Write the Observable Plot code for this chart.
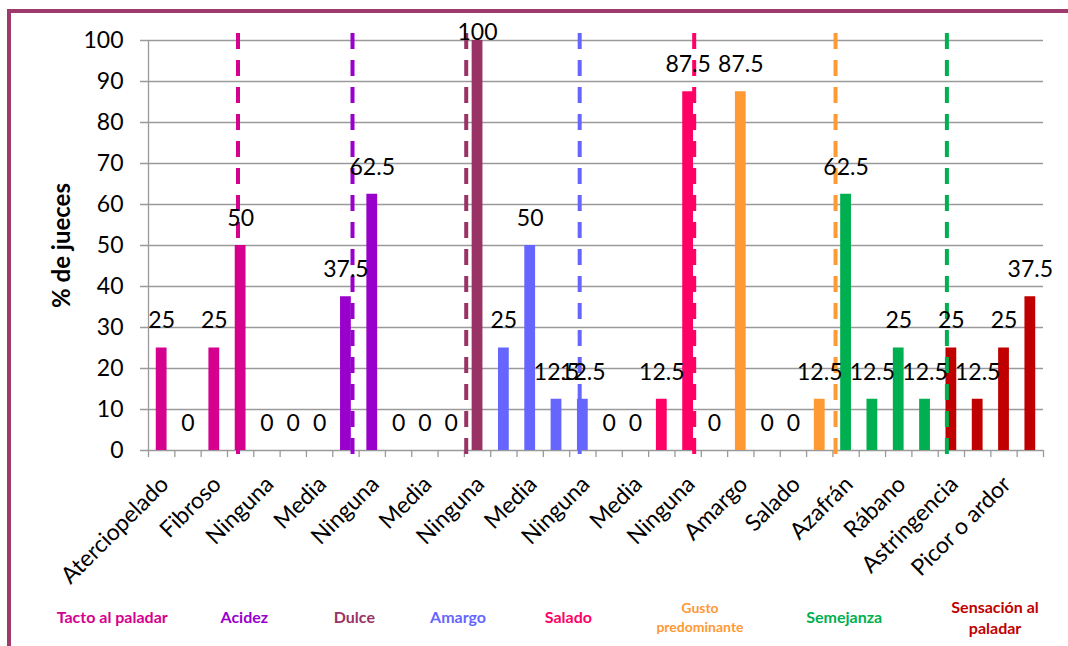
<!DOCTYPE html>
<html>
<head>
<meta charset="utf-8">
<script src="https://cdn.jsdelivr.net/npm/d3@7"></script>
<script src="https://cdn.jsdelivr.net/npm/@observablehq/plot@0.6"></script>
<style>
  html, body { margin: 0; padding: 0; background: #fff; }
  #chart { position: relative; width: 1068px; height: 646px; overflow: hidden; }
  #chart svg { position: absolute; left: 0; top: 0; font-family: Lato, "Open Sans", sans-serif; }
  #border { position: absolute; left: 7px; top: 9px; width: 1100px; height: 700px;
            border-left: 4.5px solid #9e3a6c; border-top: 4px solid #9e3a6c; }
</style>
</head>
<body>
<div id="chart"><div id="border"></div></div>
<script>
// Attribute levels, one bar each (every other name is shown under the axis)
const categories = [
  "Aterciopelado", "Arenoso", "Fibroso", "Harinoso",
  "Ninguna", "Baja", "Media", "Alta", "Ninguna",
  "Baja", "Media", "Alta", "Ninguna",
  "Baja", "Media", "Alta", "Ninguna",
  "Baja", "Media", "Alta", "Ninguna",
  "Ácido", "Amargo", "Dulce", "Salado", "Umami",
  "Azafrán", "Jengibre", "Rábano", "Mostaza",
  "Astringencia", "Frescor", "Picor o ardor", "Calidez"
];

// % of judges choosing each level
const values = [
  25, 0, 25, 50,
  0, 0, 0, 37.5, 62.5,
  0, 0, 0, 100,
  25, 50, 12.5, 12.5,
  0, 0, 12.5, 87.5,
  0, 87.5, 0, 0, 12.5,
  62.5, 12.5, 25, 12.5,
  25, 12.5, 25, 37.5
];

// Sensory attributes and how many consecutive bars belong to each
const groups = ["Tacto al paladar", "Acidez", "Dulce", "Amargo", "Salado",
                "Gusto\npredominante", "Semejanza", "Sensación al\npaladar"];
const groupSizes = [4, 5, 4, 4, 4, 5, 4, 4];
const groupColors = ["#d6008f", "#9900cc", "#993366", "#6666ff", "#ff0066",
                     "#ff9933", "#00b050", "#c00000"];

// Hand-drawn dashed dividers after each attribute, in bar-index units
const dividerAt = [3.40, 7.75, 12.07, 16.38, 20.73, 26.10, 30.33];
// Attribute captions under the axis, in bar-index units
const captionAt = [-1.38, 3.64, 7.82, 11.76, 15.95, 20.95, 26.43, 32.16];
const captionSize = [16, 16, 16, 16, 16, 14, 16, 16];

const yTicks = d3.range(0, 101, 10);

// one row per bar, tagged with its attribute
const groupOfBar = groupSizes.flatMap((n, g) => d3.range(n).map(() => groups[g]));
const rows = values.map((v, i) => ({i, name: categories[i], value: v, group: groupOfBar[i]}));
const dividers = dividerAt.map((at, g) => ({at, group: groups[g]}));
const captions = captionAt.map((at, g) => ({at, group: groups[g], size: captionSize[g]}));
const labelledRows = rows.filter(d => d.i % 2 === 0);

const n = categories.length;

const chart = Plot.plot({
  width: 1068,
  height: 646,
  marginLeft: 148,
  marginRight: 25,
  marginTop: 40,
  marginBottom: 196,
  style: {fontFamily: "Lato, 'Open Sans', sans-serif", background: "transparent", overflow: "visible"},
  x: {domain: [0, n], axis: null},
  y: {domain: [0, 100], axis: null},
  color: {domain: groups, range: groupColors},
  marks: [
    // gridlines (with outward tick stubs on the left)
    Plot.ruleY(yTicks, {stroke: "#9a9a9a", strokeWidth: 1.3, insetLeft: -8}),
    Plot.ruleX([0], {stroke: "#9a9a9a", strokeWidth: 1.3}),
    // y tick labels
    Plot.axisY(yTicks, {tickSize: 0, tickPadding: 25, fontSize: 23, label: null, tickFormat: d => String(d)}),
    // category tick marks on boundaries
    Plot.axisX(d3.range(0, n + 1), {tickSize: 7, stroke: "#9a9a9a", strokeWidth: 1.3, label: null, tickFormat: () => ""}),
    // bars
    Plot.rectY(rows, {x1: d => d.i + 0.295, x2: d => d.i + 0.705, y: "value", fill: "group"}),
    // dashed dividers
    Plot.ruleX(dividers, {x: "at", y1: 101.7, y2: -1.2, stroke: "group", strokeWidth: 4, strokeDasharray: "16,11"}),
    // value labels
    Plot.text(rows, {x: d => d.i + 0.5, y: d => Math.min(d.value + 6.6, 102), text: d => String(d.value),
                     fontSize: 23, fill: "black"}),
    // category names (every other bar), slanted below the axis
    Plot.text(labelledRows, {x: d => d.i + 0.5, y: 0, text: "name", rotate: -45, textAnchor: "end",
                             dx: 3, dy: 30, fontSize: 23, fill: "black"}),
    // y axis title
    Plot.text(["% de jueces"], {frameAnchor: "left", dx: -86, rotate: -90, textAnchor: "middle",
                                fontSize: 24, fontWeight: "bold", fill: "black"}),
    // attribute captions
    Plot.text(captions, {x: "at", y: -40.5, text: "group", fill: "group", fontSize: "size",
                         fontWeight: "bold", lineHeight: 1.35})
  ]
});

document.getElementById("chart").appendChild(chart);
</script>
</body>
</html>
